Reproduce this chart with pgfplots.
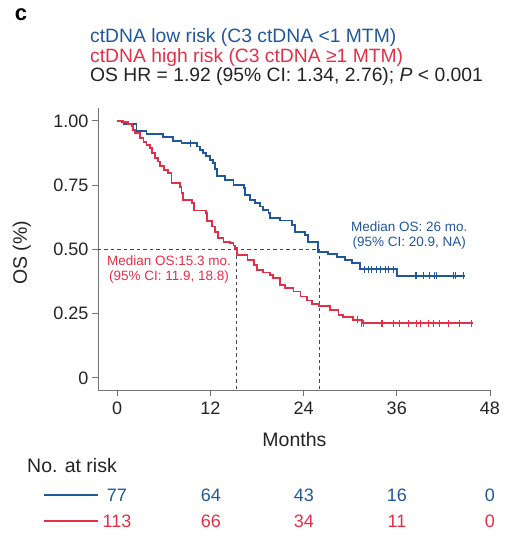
\documentclass[border=0pt]{standalone}
\usepackage{pgfplots}
\pgfplotsset{compat=1.18}
\usepackage{fontspec}
\setmainfont{Liberation Sans}

\definecolor{kmblue}{RGB}{33,88,153}
\definecolor{kmred}{RGB}{226,48,72}
\definecolor{txt}{RGB}{35,35,35}
\definecolor{axgray}{RGB}{115,115,115}
\definecolor{dashgray}{RGB}{70,70,70}

\begin{document}
\begin{tikzpicture}[x=1pt,y=1pt]
\useasboundingbox (-98,-160) rectangle (416,390);
\begin{axis}[
    at={(0,0)}, anchor=south west,
    scale only axis, width=392pt, height=282pt,
    xmin=-2.45, xmax=48, ymin=-0.047, ymax=1.05,
    axis x line*=bottom, axis y line*=left,
    axis line style={-, axgray, line width=0.9pt},
    tick align=outside, major tick length=6pt,
    tick style={axgray, line width=0.9pt},
    xtick={0,12,24,36,48}, xticklabels={0,12,24,36,48},
    ytick={0,0.25,0.5,0.75,1}, yticklabels={0,0.25,0.50,0.75,1.00},
    ticklabel style={font=\fontsize{18}{20}\selectfont, text=txt},
    xticklabel style={yshift=-2pt},
    xlabel=Months, ylabel={OS (\%)},
    label style={font=\fontsize{19.5}{22}\selectfont, text=txt},
    xlabel style={at={(axis description cs:0.501,-0.177)}, anchor=center},
    ylabel style={at={(axis description cs:-0.194,0.486)}, anchor=center},
    clip=false,
]
% median guides
\addplot[dashgray, dash pattern=on 3.5pt off 3pt, line width=0.8pt] coordinates {(-2.45,0.5) (26,0.5)};
\addplot[dashgray, dash pattern=on 3.5pt off 3pt, line width=0.8pt] coordinates {(15.3,0.5) (15.3,-0.047)};
\addplot[dashgray, dash pattern=on 3.5pt off 3pt, line width=0.8pt] coordinates {(26,0.5) (26,-0.047)};

% low risk
\addplot[kmblue, line width=1.8pt, const plot] coordinates {
    (0,1.0) (0.6,0.995) (0.9,0.988) (2.5,0.962) (3.8,0.949) (5.9,0.937)
    (7.2,0.923) (8.3,0.913) (10.3,0.900) (10.7,0.887) (11.1,0.875)
    (11.5,0.862) (12.0,0.848) (12.3,0.835) (12.6,0.812) (12.9,0.784)
    (13.9,0.770) (15.0,0.751) (16.3,0.738) (16.5,0.712) (17.1,0.693)
    (17.8,0.680) (18.4,0.667) (18.8,0.654) (19.5,0.640) (19.7,0.621)
    (21.0,0.612) (22.5,0.595) (22.9,0.569) (24.2,0.556) (24.6,0.530)
    (25.9,0.491) (27.2,0.482) (28.3,0.470) (29.3,0.458) (30.2,0.446)
    (31.3,0.423) (36.0,0.397) (44.8,0.397)
};
\addplot[kmblue, only marks, mark=|, mark size=3.5pt, mark options={line width=1pt}] coordinates {
    (9.5,0.913)
    (31.8,0.423) (32.3,0.423) (32.8,0.423) (33.4,0.423) (33.9,0.423)
    (34.5,0.423) (35.0,0.423) (35.6,0.423)
    (38.4,0.397) (38.6,0.397) (39.4,0.397) (40.2,0.397) (40.9,0.397)
    (41.1,0.397) (43.3,0.397) (43.5,0.397) (44.6,0.397)
};

% high risk
\addplot[kmred, line width=1.8pt, const plot] coordinates {
    (0,1.0) (0.8,0.994) (1.45,0.988) (1.9,0.981) (2.1,0.965) (2.3,0.952)
    (3.0,0.933) (3.4,0.919) (3.8,0.907) (4.2,0.894) (4.5,0.875) (4.9,0.855)
    (5.3,0.842) (5.5,0.823) (6.0,0.809) (6.6,0.796) (7.0,0.757) (8.1,0.742)
    (8.3,0.720) (8.5,0.693) (9.6,0.680) (9.9,0.651) (11.4,0.641) (11.6,0.609)
    (12.2,0.589) (12.6,0.569) (13.0,0.543) (13.7,0.530) (14.5,0.524)
    (15.0,0.515) (15.2,0.505) (15.4,0.479) (16.8,0.459) (17.6,0.440)
    (18.0,0.420) (18.8,0.410) (19.7,0.401) (20.1,0.388) (21.0,0.362)
    (21.6,0.349) (22.7,0.336) (23.6,0.317) (24.4,0.301) (25.1,0.288)
    (26.0,0.280) (27.4,0.265) (28.5,0.245) (29.1,0.236) (30.4,0.226)
    (31.6,0.213) (45.8,0.213)
};
\addplot[kmred, only marks, mark=|, mark size=3.5pt, mark options={line width=1pt}] coordinates {
    (31.0,0.226)
    (31.5,0.213) (31.7,0.213) (34.1,0.213) (34.2,0.213) (35.6,0.213)
    (36.4,0.213) (37.5,0.213) (38.6,0.213) (39.0,0.213) (40.1,0.213)
    (40.7,0.213) (41.5,0.213) (42.6,0.213) (44.1,0.213) (45.6,0.213)
};

\node[kmblue, align=center, font=\fontsize{13.5}{15}\selectfont] at (axis cs:37.6,0.553)
    {Median OS: 26 mo.\\(95\% CI: 20.9, NA)};
\node[kmred, align=center, font=\fontsize{13.5}{15}\selectfont] at (axis cs:6.7,0.422)
    {Median OS:15.3 mo.\\(95\% CI: 11.9, 18.8)};
\end{axis}

% panel letter and header
\node[font=\bfseries\fontsize{22}{22}\selectfont, text=black] at (-77,375) {c};
\node[anchor=west, inner sep=0, text=kmblue, font=\fontsize{19.3}{20}\selectfont] at (-8,352)
    {ctDNA low risk (C3 ctDNA <1 MTM)};
\node[anchor=west, inner sep=0, text=kmred, font=\fontsize{19.3}{20}\selectfont] at (-8,332)
    {ctDNA high risk (C3 ctDNA ≥1 MTM)};
\node[anchor=west, inner sep=0, text=txt, font=\fontsize{19.3}{20}\selectfont] at (-8,313)
    {OS HR = 1.92 (95\% CI: 1.34, 2.76); \textit{P} < 0.001};

% number at risk
\node[anchor=west, inner sep=0, text=txt, font=\fontsize{19.5}{21}\selectfont] at (-71,-76) {No. at risk};
\draw[kmblue, line width=1.5pt] (-54,-105) -- (0,-105);
\draw[kmred, line width=1.5pt] (-54,-131) -- (0,-131);
\foreach \x/\a/\b in {19/77/113, 113/64/66, 206/43/34, 299/16/11, 392/0/0} {
    \node[text=kmblue, font=\fontsize{18}{20}\selectfont] at (\x,-105) {\a};
    \node[text=kmred, font=\fontsize{18}{20}\selectfont] at (\x,-131) {\b};
}
\end{tikzpicture}
\end{document}
